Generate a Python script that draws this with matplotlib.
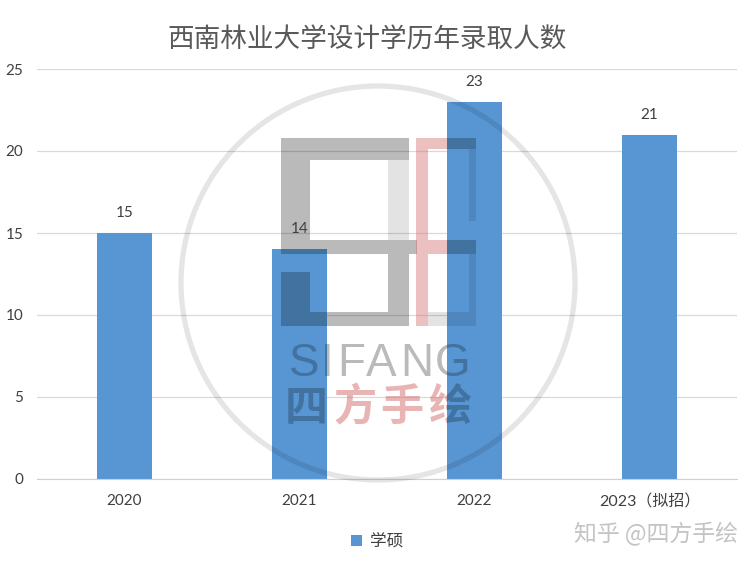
import matplotlib.pyplot as plt
from matplotlib.patches import Rectangle, Circle
from matplotlib.transforms import Affine2D

plt.rcParams['font.family'] = ['Lato', 'Noto Sans CJK SC', 'DejaVu Sans']

years = ['2020', '2021', '2022', '2023（拟招）']
admitted = [15, 14, 23, 21]
yticks = [0, 5, 10, 15, 20, 25]
title = '西南林业大学设计学历年录取人数'
series_name = '学硕'

BLUE = '#5796D3'
W, H = 756, 565

fig = plt.figure(figsize=(W / 100, H / 100), dpi=100)
ax = fig.add_axes([37 / W, 1 - 479 / H, 700 / W, 410 / H])

# pixel coords (origin top left) for the watermark
pix = Affine2D().scale(1 / W, -1 / H).translate(0, 1) + fig.transFigure

bars = ax.bar(range(len(years)), admitted, width=0.315, color=BLUE, zorder=2, label=series_name)
ax.set_xlim(-0.5, 3.5)
ax.set_ylim(0, 25)
ax.set_yticks(yticks)
ax.set_xticks(range(len(years)), years)
ax.grid(axis='y', color='#D9D9D9', linewidth=0.9, zorder=1)
ax.set_axisbelow(True)
for s in ['top', 'right', 'left']:
    ax.spines[s].set_visible(False)
ax.spines['bottom'].set_color('#D0D0D0')
ax.tick_params(axis='y', length=0, pad=10, labelsize=11, labelcolor='#404040')
ax.tick_params(axis='x', length=0, pad=11, labelsize=11, labelcolor='#404040')
ax.get_xticklabels()[-1].set_fontsize(11.5)

for b, v in zip(bars, admitted):
    ax.annotate(str(v), (b.get_x() + b.get_width() / 2, v), xytext=(0, 20), textcoords='offset pixels',
                ha='center', va='center', fontsize=11, color='#404040', zorder=5)

fig.text(367 / W, 1 - 40 / H, title, ha='center', va='center', fontsize=19.2, color='#595959')

ax.legend(loc='center', bbox_to_anchor=(377 / W, 1 - 541 / H), bbox_transform=fig.transFigure,
          frameon=False, fontsize=12, handlelength=0.65, handleheight=0.65, handletextpad=0.5,
          labelcolor='#404040')

# watermark ring
ax.add_patch(Circle((378, 283), 197, transform=pix, fill=False, ec='black', alpha=0.1, lw=3.8, zorder=3, clip_on=False))

# logo pieces: x0, y0, x1, y1
grey_parts = [(281, 138, 409, 160), (281, 160, 310, 254), (281, 272, 310, 326), (310, 240, 417, 254),
              (310, 312, 409, 326), (388, 254, 409, 312)]
light_parts = [(388, 160, 409, 240), (428, 312, 476, 326)]
pink_parts = [(416, 138, 428, 326), (428, 138, 476, 149), (428, 240, 476, 254)]
faint_parts = [(469, 149, 476, 221), (469, 254, 476, 312), (447, 312, 476, 326)]


def piece(box, color, alpha, z, clip=False):
    x0, y0, x1, y1 = box
    return ax.add_patch(Rectangle((x0, y0), x1 - x0, y1 - y0, transform=pix, fc=color, ec='none',
                                  alpha=alpha, zorder=z, clip_on=clip))


def on_bars(box, alpha=0.24):
    # darker copy, only visible where it sits on a bar
    for b in bars[1:3]:
        p = piece(box, 'black', alpha, 3, clip=True)
        p.set_clip_path(b)


for box in grey_parts:
    piece(box, 'black', 0.27, 1.5)
    on_bars(box)
for box in light_parts:
    piece(box, 'black', 0.11, 1.5)
for box in pink_parts:
    piece(box, '#D26A6A', 0.42, 1.5)
    on_bars(box)
for box in faint_parts:
    on_bars(box, 0.1)


def marked(s, x, y, color, alpha, under_bars=0.24, **kw):
    # watermark glyph: pale on the page, dark where it crosses a bar
    ax.text(x, y, s, transform=pix, ha='center', va='center', color=color, alpha=alpha, zorder=1.5, **kw)
    for b in bars[1:3]:
        t = ax.text(x, y, s, transform=pix, ha='center', va='center', color='black', alpha=under_bars,
                    zorder=3, clip_on=True, **kw)
        t.set_clip_path(b)


for ch, cx in zip('SIFANG', [304, 327, 351, 381, 417, 453]):
    marked(ch, cx, 364, 'black', 0.27, fontsize=33, family=['Liberation Sans'])

for ch, cx, col in zip('四方手绘', [306, 355, 402, 450], ['#555555', '#D26A6A', '#D26A6A', '#D26A6A']):
    marked(ch, cx, 407, col, 0.5, fontsize=31, fontweight='bold', family=['Noto Sans CJK SC'])

fig.text(655.5 / W, 1 - 534 / H, '知乎 @四方手绘', ha='center', va='center', fontsize=16.5,
         color='#C4C4C4', family=['Noto Sans CJK SC'])

fig.savefig('out.png', dpi=100)
